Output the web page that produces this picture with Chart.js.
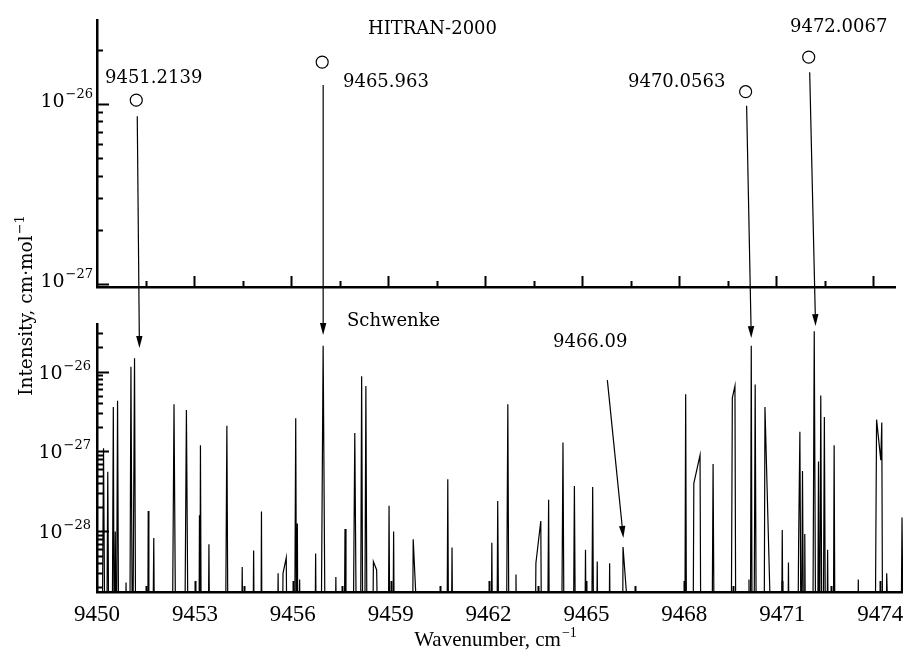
<!DOCTYPE html>
<html>
<head>
<meta charset="utf-8">
<script src="https://cdn.jsdelivr.net/npm/chart.js@4.4.0/dist/chart.umd.min.js"></script>
<style>
  body { margin: 0; background: #fff; }
  #wrap { position: relative; width: 903px; height: 653px; }
  canvas { position: absolute; left: 0; top: 0; }
  #top { z-index: 2; }
</style>
</head>
<body>
<div id="wrap">
  <canvas id="bottom" width="903" height="653"></canvas>
  <canvas id="top" width="903" height="300"></canvas>
</div>
<script>
// HITRAN-2000 lines (circles in the upper panel)
const hitranWn = [9451.2139, 9456.963, 9470.0563, 9472.0067];
const hitranI = [1.05e-26, 1.71e-26, 1.17e-26, 1.82e-26];
const hitranLabels = ["9451.2139", "9465.963", "9470.0563", "9472.0067"];

// where each arrow points in the Schwenke panel
const arrowTipWn = [9451.30, 9456.93, 9470.05, 9472.02];
const arrowTipI = [1.97e-26, 2.86e-26, 2.62e-26, 3.7e-26];

// Schwenke spectrum, 0 = below the plotted range
const schwenkeWn = [
  9450.00,
  9450.15, 9450.20, 9450.25, 9450.29, 9450.33, 9450.37, 9450.46, 9450.50, 9450.53,
  9450.56, 9450.59, 9450.63, 9450.67, 9450.86, 9450.89, 9450.92,
  9451.00, 9451.04, 9451.09, 9451.15, 9451.19,
  9451.55, 9451.57, 9451.59, 9451.70, 9451.74, 9451.77,
  9452.30, 9452.36, 9452.42, 9452.68, 9452.74, 9452.80,
  9453.12, 9453.14, 9453.15, 9453.17, 9453.20, 9453.40, 9453.43, 9453.46,
  9453.93, 9453.98, 9454.02, 9454.42, 9454.45, 9454.48, 9454.77, 9454.80, 9454.83,
  9455.02, 9455.04, 9455.06, 9455.52, 9455.55, 9455.58,
  9455.67, 9455.70, 9455.80, 9455.83,
  9456.05, 9456.09, 9456.12, 9456.14, 9456.16, 9456.18, 9456.21, 9456.24,
  9456.67, 9456.70, 9456.73, 9456.86, 9456.93, 9457.00,
  9457.29, 9457.32, 9457.35, 9457.57, 9457.60, 9457.63,
  9457.84, 9457.90, 9457.96, 9458.07, 9458.11, 9458.15, 9458.20, 9458.24, 9458.28,
  9458.44, 9458.47, 9458.57, 9458.63, 9458.92, 9458.95, 9458.98,
  9459.06, 9459.09, 9459.12, 9459.66, 9459.69, 9459.91,
  9460.72, 9460.75, 9460.78, 9460.85, 9460.88, 9460.91,
  9462.07, 9462.10, 9462.13, 9462.25, 9462.28, 9462.32, 9462.54, 9462.59, 9462.63,
  9462.81, 9462.84, 9462.87, 9463.42, 9463.45, 9463.60, 9463.63,
  9463.80, 9463.84, 9463.87, 9464.23, 9464.28, 9464.32, 9464.59, 9464.63, 9464.67,
  9464.94, 9464.97, 9465.00, 9465.15, 9465.19, 9465.23, 9465.30, 9465.33, 9465.36,
  9465.68, 9465.71, 9465.74, 9466.10, 9466.12, 9466.45,
  9468.01, 9468.04, 9468.07, 9468.26, 9468.29, 9468.48, 9468.51,
  9468.84, 9468.88, 9468.92, 9469.43, 9469.47, 9469.55, 9469.58,
  9469.95, 9469.98, 9470.00, 9470.02, 9470.05, 9470.08, 9470.13, 9470.17, 9470.21,
  9470.44, 9470.47, 9470.70, 9470.97, 9471.00, 9471.03, 9471.16, 9471.19, 9471.22,
  9471.47, 9471.50, 9471.54, 9471.58, 9471.60, 9471.62, 9471.66, 9471.67, 9471.69, 9471.72,
  9471.93, 9471.98, 9472.03, 9472.08, 9472.11, 9472.14, 9472.18, 9472.22,
  9472.25, 9472.29, 9472.33, 9472.36, 9472.39, 9472.42, 9472.56, 9472.59, 9472.62,
  9473.30, 9473.33, 9473.36, 9473.84, 9473.89, 9474.02, 9474.05, 9474.08,
  9474.17, 9474.20, 9474.30, 9474.63, 9474.67, 9474.72
];
const schwenkeI = [
  0,
  0, 1.1e-27, 0, 0, 5.6e-28, 0, 0, 3.6e-27, 0,
  1.0e-28, 0, 4.3e-27, 0, 0, 2.3e-29, 0,
  0, 1.15e-26, 0, 1.47e-26, 0,
  0, 1.8e-28, 0, 0, 8.3e-29, 0,
  0, 3.9e-27, 0, 0, 3.3e-27, 0,
  0, 1.6e-28, 0, 1.2e-27, 0, 0, 6.9e-29, 0,
  0, 2.1e-27, 0, 0, 3.6e-29, 0, 0, 5.8e-29, 0,
  0, 1.78e-28, 0, 0, 3.0e-29, 0,
  0, 3.0e-29, 4.7e-29, 0,
  0, 2.6e-27, 0, 1.26e-28, 0, 0, 2.5e-29, 0,
  0, 5.3e-29, 0, 0, 2.1e-26, 0,
  0, 2.7e-29, 0, 0, 1.07e-28, 0,
  0, 1.7e-27, 0, 0, 8.7e-27, 0, 0, 6.6e-27, 0,
  0, 4.2e-29, 3.3e-29, 0, 0, 2.1e-28, 0,
  0, 1.0e-28, 0, 0, 8.0e-29, 0,
  0, 4.5e-28, 0, 0, 6.3e-29, 0,
  0, 7.2e-29, 0, 0, 2.4e-28, 0, 0, 3.9e-27, 0,
  0, 2.9e-29, 0, 0, 4.0e-29, 1.35e-28, 0,
  0, 2.5e-28, 0, 0, 1.3e-27, 0, 0, 3.7e-28, 0,
  0, 5.9e-29, 0, 0, 3.6e-28, 0, 0, 4.2e-29, 0,
  0, 4.0e-29, 0, 0, 6.4e-29, 0,
  0, 5.2e-27, 0, 0, 4.0e-28, 9.0e-28, 0,
  0, 7.0e-28, 0, 0, 4.7e-27, 6.6e-27, 0,
  0, 2.5e-29, 0, 0, 2.1e-26, 0, 0, 6.9e-27, 0,
  0, 3.6e-27, 0, 0, 1.04e-28, 0, 0, 4.1e-29, 0,
  0, 6.3e-29, 1.76e-27, 0, 0, 5.7e-28, 0, 0, 9.3e-29, 0,
  0, 3.2e-26, 0, 0, 7.5e-28, 0, 5.0e-27, 0,
  0, 2.7e-27, 0, 0, 5.9e-29, 0, 0, 1.2e-27, 0,
  0, 2.5e-29, 0, 0, 2.5e-27, 7.8e-28, 2.3e-27, 0,
  0, 3.0e-29, 0, 0, 1.5e-28, 0
];

const xTickLabels = ["9450", "9453", "9456", "9459", "9462", "9465", "9468", "9471", "9474"];
const FLOOR = 1e-30;

const serif = '"DejaVu Serif"';
const times = '"Liberation Serif"';

function supText(ctx, base, exp, x, y, size, expSize, font, align) {
  ctx.font = size + "px " + font;
  const w1 = ctx.measureText(base).width;
  ctx.font = expSize + "px " + font;
  const w2 = ctx.measureText(exp).width;
  let x0 = x;
  if (align === "right") x0 = x - w1 - w2;
  if (align === "center") x0 = x - (w1 + w2) / 2;
  ctx.textAlign = "left";
  ctx.textBaseline = "alphabetic";
  ctx.font = size + "px " + font;
  ctx.fillText(base, x0, y);
  ctx.font = expSize + "px " + font;
  ctx.fillText(exp, x0 + w1 + 1, y - size * 0.45);
}

function drawYTicks(ctx, scale, left) {
  ctx.beginPath();
  for (let e = -31; e <= -24; e++) {
    for (let m = 1; m <= 9; m++) {
      const v = m * Math.pow(10, e);
      if (v < scale.min || v > scale.max) continue;
      const y = Math.round(scale.getPixelForValue(v)) + 0.5;
      ctx.moveTo(left, y);
      ctx.lineTo(left + (m === 1 ? 12 : 6), y);
    }
  }
  ctx.stroke();
}

function drawXTicks(ctx, scale, bottom) {
  ctx.beginPath();
  for (let k = 0; 9450 + 1.5 * k <= scale.max; k++) {
    const x = Math.round(scale.getPixelForValue(9450 + 1.5 * k)) + 0.5;
    if (k === 0) continue;
    ctx.moveTo(x, bottom);
    ctx.lineTo(x, bottom - (k % 2 === 0 ? 11 : 6));
  }
  ctx.stroke();
}

function arrow(ctx, x0, y0, x1, y1) {
  const a = Math.atan2(y1 - y0, x1 - x0);
  const L = 12, W = 3.2;
  ctx.beginPath();
  ctx.moveTo(x0, y0);
  ctx.lineTo(x1 - L * Math.cos(a), y1 - L * Math.sin(a));
  ctx.stroke();
  ctx.beginPath();
  ctx.moveTo(x1, y1);
  ctx.lineTo(x1 - L * Math.cos(a) + W * Math.sin(a), y1 - L * Math.sin(a) - W * Math.cos(a));
  ctx.lineTo(x1 - L * Math.cos(a) - W * Math.sin(a), y1 - L * Math.sin(a) + W * Math.cos(a));
  ctx.closePath();
  ctx.fill();
}

const topDeco = {
  id: "topDeco",
  afterDraw(chart) {
    const ctx = chart.ctx;
    const xs = chart.scales.x, ys = chart.scales.y;
    const area = chart.chartArea;
    ctx.save();
    ctx.strokeStyle = "#000";
    ctx.fillStyle = "#000";
    ctx.lineWidth = 2;
    drawYTicks(ctx, ys, area.left);
    drawXTicks(ctx, xs, area.bottom);
    supText(ctx, "10", "\u221226", 92, Math.round(ys.getPixelForValue(1e-26)) + 3, 19, 13, serif, "right");
    supText(ctx, "10", "\u221227", 92, Math.round(ys.getPixelForValue(1e-27)) + 3, 19, 13, serif, "right");
    ctx.font = "18px " + serif;
    ctx.textAlign = "left";
    ctx.fillText("HITRAN-2000", 368, 34);
    ctx.fillText(hitranLabels[0], 105, 83);
    ctx.fillText(hitranLabels[1], 343, 87);
    ctx.fillText(hitranLabels[2], 628, 87);
    ctx.fillText(hitranLabels[3], 790, 32);
    ctx.restore();
  }
};

const topChart = new Chart(document.getElementById("top"), {
  type: "scatter",
  data: {
    datasets: [{
      data: hitranWn.map((x, i) => ({ x: x, y: hitranI[i] })),
      pointStyle: "circle",
      pointRadius: 6,
      borderWidth: 1.2,
      borderColor: "#000",
      backgroundColor: "#fff"
    }]
  },
  options: {
    responsive: false,
    animation: false,
    events: [],
    layout: { padding: { left: 97, right: 0, top: 20, bottom: 13 } },
    plugins: { legend: { display: false }, tooltip: { enabled: false } },
    scales: {
      x: {
        type: "linear", min: 9450, max: 9474.7,
        ticks: { display: false },
        grid: { display: false, drawTicks: false },
        border: { color: "#000", width: 2.5 }
      },
      y: {
        type: "logarithmic", min: 9.6e-28, max: 2.93e-26,
        ticks: { display: false },
        grid: { display: false, drawTicks: false },
        border: { color: "#000", width: 2.5 }
      }
    }
  },
  plugins: [topDeco]
});

const bottomDeco = {
  id: "bottomDeco",
  afterDraw(chart) {
    const ctx = chart.ctx;
    const xs = chart.scales.x, ys = chart.scales.y;
    const area = chart.chartArea;
    const txs = topChart.scales.x, tys = topChart.scales.y;
    ctx.save();
    ctx.strokeStyle = "#000";
    ctx.fillStyle = "#000";
    ctx.lineWidth = 2;
    drawYTicks(ctx, ys, area.left);
    drawXTicks(ctx, xs, area.bottom);

    [-26, -27, -28].forEach(e => {
      const y = Math.round(ys.getPixelForValue(Math.pow(10, e))) + 7;
      supText(ctx, "10", "\u2212" + (-e), 90, y, 19, 13, serif, "right");
    });

    ctx.font = "23px " + times;
    ctx.textAlign = "center";
    xTickLabels.forEach(t => {
      ctx.fillText(t, xs.getPixelForValue(Number(t)), 621);
    });
    supText(ctx, "Wavenumber, cm", "\u22121", 495, 646, 21, 14, times, "center");

    ctx.save();
    ctx.translate(32, 306);
    ctx.rotate(-Math.PI / 2);
    supText(ctx, "Intensity, cm\u00b7mol", "\u22121", 0, 0, 18.5, 13, serif, "center");
    ctx.restore();

    ctx.font = "18px " + serif;
    ctx.textAlign = "left";
    ctx.fillText("Schwenke", 347, 326);
    ctx.fillText("9466.09", 553, 347);

    // arrows from the HITRAN circles down to the Schwenke lines
    ctx.lineWidth = 1.2;
    const gaps = [16, 23, 14, 15];
    hitranWn.forEach((wn, i) => {
      const x0 = txs.getPixelForValue(wn) + 1;
      const y0 = tys.getPixelForValue(hitranI[i]) + gaps[i];
      const x1 = xs.getPixelForValue(arrowTipWn[i]);
      const y1 = ys.getPixelForValue(arrowTipI[i]);
      arrow(ctx, x0, y0, x1, y1);
    });
    arrow(ctx, xs.getPixelForValue(9465.64), ys.getPixelForValue(7.8e-27),
      xs.getPixelForValue(9466.13), ys.getPixelForValue(8.3e-29));
    ctx.restore();
  }
};

new Chart(document.getElementById("bottom"), {
  type: "line",
  data: {
    datasets: [{
      data: schwenkeWn.map((x, i) => ({ x: x, y: schwenkeI[i] || FLOOR })),
      borderColor: "#000",
      borderWidth: 1.2,
      pointRadius: 0,
      tension: 0,
      fill: false
    }]
  },
  options: {
    responsive: false,
    animation: false,
    events: [],
    layout: { padding: { left: 97, right: 0, top: 324, bottom: 61 } },
    plugins: { legend: { display: false }, tooltip: { enabled: false } },
    scales: {
      x: {
        type: "linear", min: 9450, max: 9474.7,
        ticks: { display: false },
        grid: { display: false, drawTicks: false },
        border: { color: "#000", width: 2.5 }
      },
      y: {
        type: "logarithmic", min: 1.75e-29, max: 3.93e-26,
        ticks: { display: false },
        grid: { display: false, drawTicks: false },
        border: { color: "#000", width: 2.5 }
      }
    }
  },
  plugins: [bottomDeco]
});
</script>
</body>
</html>
